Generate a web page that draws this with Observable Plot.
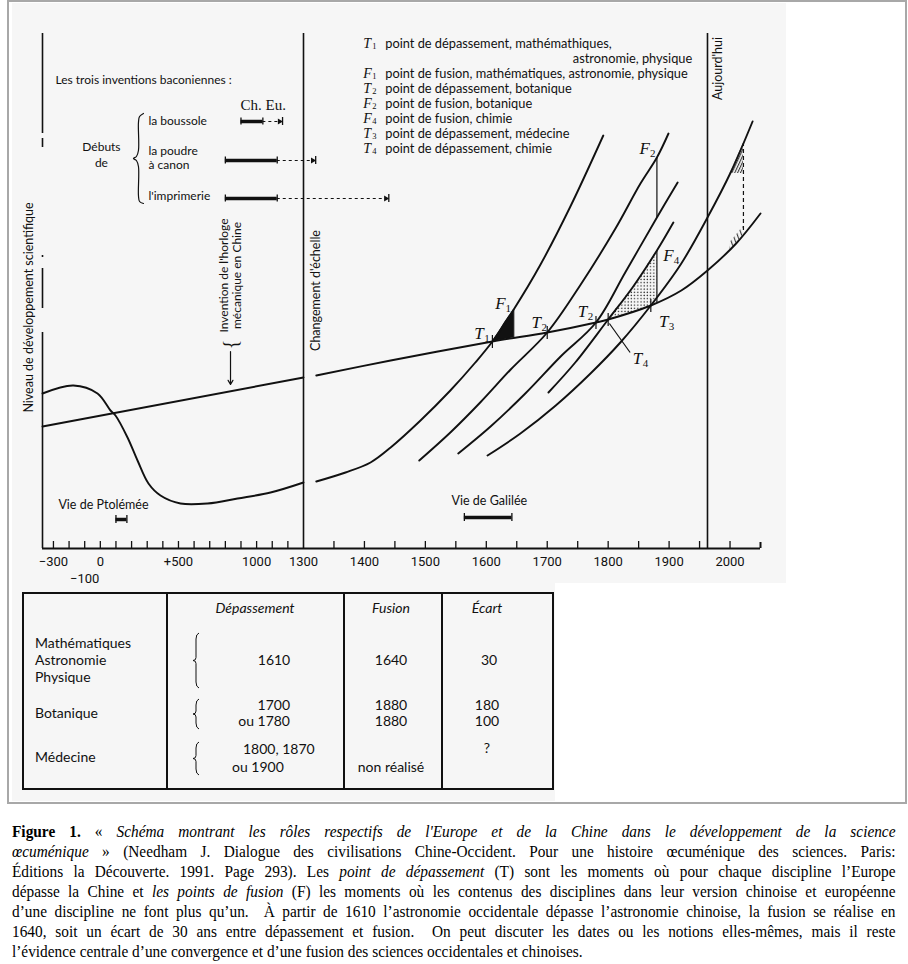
<!DOCTYPE html>
<html><head><meta charset="utf-8">
<script src="https://cdn.jsdelivr.net/npm/d3@7"></script>
<script src="https://cdn.jsdelivr.net/npm/@observablehq/plot@0.6"></script>
<style>
body{margin:0;background:#fff;width:908px;height:964px;position:relative;overflow:hidden;font-family:Lato,sans-serif;color:#111}
#frame{position:absolute;left:7px;top:0;width:900px;height:804px;border:2px solid #a8a8a8;box-sizing:border-box}
#chartbg{position:absolute;left:12px;top:3px;width:774px;height:580px;background:#f6f6f6}
#tablebg{position:absolute;left:12px;top:583px;width:543px;height:218px;background:#f6f6f6}
#chart{position:absolute;left:0;top:0}
#table{position:absolute;left:22px;top:592px;width:532px;height:198px;border:2px solid #111;box-sizing:border-box}
.vl{position:absolute;top:592px;width:1.6px;height:198px;background:#111}
.tt{position:absolute;font-size:14px;white-space:nowrap;line-height:16px}
#caption{position:absolute;left:12px;top:822px;width:950px;transform:scaleX(0.93);transform-origin:0 0;font-family:"Liberation Serif",serif;font-size:16.5px;color:#000}
.cl{height:20px;line-height:20px;text-align:justify;text-align-last:justify}
.cl.last{text-align-last:left}
</style></head>
<body>
<div id="frame"></div>
<div id="chartbg"></div>
<div id="tablebg"></div>
<div id="chart"></div>
<div id="table"></div>
<div class="vl" style="left:166px"></div>
<div class="vl" style="left:343px"></div>
<div class="vl" style="left:441px"></div>
<div id="tabletext"></div>
<svg id="braces" width="908" height="964" style="position:absolute;left:0;top:0;pointer-events:none"></svg>
<div id="caption">
<div class="cl"><b>Figure 1.</b> « <i>Schéma montrant les rôles respectifs de l'Europe et de la Chine dans le développement de la science</i></div>
<div class="cl"><i>œcuménique</i> » (Needham J. Dialogue des civilisations Chine-Occident. Pour une histoire œcuménique des sciences. Paris:</div>
<div class="cl">Éditions la Découverte. 1991. Page 293). Les <i>point de dépassement</i> (T) sont les moments où pour chaque discipline l’Europe</div>
<div class="cl">dépasse la Chine et <i>les points de fusion</i> (F) les moments où les contenus des disciplines dans leur version chinoise et européenne</div>
<div class="cl">d’une discipline ne font plus qu’un.&nbsp; À partir de 1610 l’astronomie occidentale dépasse l’astronomie chinoise, la fusion se réalise en</div>
<div class="cl">1640, soit un écart de 30 ans entre dépassement et fusion.&nbsp; On peut discuter les dates ou les notions elles-mêmes, mais il reste</div>
<div class="cl last">l’évidence centrale d’une convergence et d’une fusion des sciences occidentales et chinoises.</div>
</div>
<script>
// ---------- data: [year, level of scientific development] ----------
const chinaLeft  = [[-370,122],[1300,171]];
const chinaRight = [[1321,173],[1443,188],[1610,207],[1700,216],[1780,226],[1800,229],[1870,243],[1920,258],[1963,278],[2010,305],[2050,335]];
const europeLeft = [[-370,155],[-172,163],[-18,155],[65,138],[97,133],[174,111],[238,88],[308,65],[385,53],[513,45],[686,45],[878,50],[1089,56],[1300,66]];
const europeMath   = [[1321,67],[1369,76],[1410,86],[1443,101],[1492,128],[1541,158],[1582,186],[1610,207],[1645,239],[1689,284],[1738,342],[1792,413]];
const europeBot1   = [[1490,88],[1541,116],[1590,146],[1640,179],[1700,216],[1755,264],[1812,320],[1853,365],[1880,391],[1899,415]];
const europeBot2   = [[1554,95],[1607,122],[1664,155],[1722,192],[1780,226],[1828,276],[1880,331],[1914,366]];
const europeChem   = [[1702,156],[1746,186],[1800,229],[1840,261],[1880,298],[1907,326]];
const europeMed    = [[1602,93],[1656,115],[1714,143],[1771,175],[1820,206],[1870,243],[1919,284],[1963,331],[2001,376],[2037,427]];

const fusion1Fill = [{x:1610,lo:207,hi:207},{x:1620,lo:208,hi:216},{x:1630,lo:209,hi:226},{x:1645,lo:210.5,hi:239}];
const fusion4Fill = [{x:1800,lo:229,hi:229},{x:1820,lo:233,hi:245},{x:1840,lo:236,hi:261},{x:1860,lo:240,hi:279},{x:1880,lo:246,hi:298}];
const futureTop   = [{x:2000,lo:375,hi:375},{x:2011,lo:375,hi:390},{x:2022,lo:375,hi:405}];
const futureLow   = [{x:2000,lo:299,hi:306},{x:2011,lo:306,hi:314},{x:2022,lo:314,hi:322}];
const fusionLinks = [{x:1880,y1:331,y2:391},{x:1880,y1:246,y2:298}];
const futureLink  = [{x:2022,y1:318,y2:405}];

const tPoints = [{year:1610,level:207},{year:1700,level:216},{year:1780,level:226},{year:1800,level:229},{year:1870,level:243}];
const pointLabels = [
  {s:"F",n:"1",x:1623,y:245},{s:"T",n:"1",x:1588,y:215},{s:"T",n:"2",x:1682,y:226},
  {s:"T",n:"2",x:1758,y:237},{s:"T",n:"3",x:1891,y:227},{s:"T",n:"4",x:1848,y:190},
  {s:"F",n:"4",x:1899,y:293},{s:"F",n:"2",x:1860,y:400}
];
const t4Leader = [{x1:1802,y1:225,x2:1836,y2:196}];

const legendItems = [
  {s:"T",n:"1",text:"point de dépassement, mathémathiques,",level:505},
  {s:"F",n:"1",text:"point de fusion, mathématiques, astronomie, physique",level:475},
  {s:"T",n:"2",text:"point de dépassement, botanique",level:460},
  {s:"F",n:"2",text:"point de fusion, botanique",level:445},
  {s:"F",n:"4",text:"point de fusion, chimie",level:430},
  {s:"T",n:"3",text:"point de dépassement, médecine",level:415},
  {s:"T",n:"4",text:"point de dépassement, chimie",level:400}
];
const legendCont = [{text:"astronomie, physique",x:1938,level:490}];

// Bacon's three inventions: Chinese period (bar) and European appearance (dashed end)
const inventions = [
  {chinaStart:900,chinaEnd:1040,europe:1166,level:427},
  {chinaStart:800,chinaEnd:1132,europe:1320,level:388},
  {chinaStart:800,chinaEnd:1132,europe:1440,level:350}
];
const inventionLabels = [
  {t:"la boussole",x:308,y:427},{t:"la poudre",x:308,y:397},{t:"à canon",x:308,y:383},{t:"l'imprimerie",x:308,y:352}
];
const lifeSpans = [{name:"Vie de Ptolémée",start:100,end:170,level:29,lx:20,ly:44},{name:"Vie de Galilée",start:1564,end:1642,level:31,lx:1605,ly:48}];

const braceDebuts = [[276,435],[251,432],[244,426],[244,398],[231,392],[212,390],[231,388],[244,382],[244,353],[251,347],[276,345]];
const leftAxisSegments = [[415,515],[401,410],[291,293],[240,280],[0,216]];

const ticksLeft = d3.range(-300,1300,100);
const ticksRight = d3.range(1350,2001,50);
const tickLabels = [{v:-300,t:"−300"},{v:0,t:"0"},{v:500,t:"+500"},{v:1000,t:"1000"},{v:1300,t:"1300"},{v:1400,t:"1400"},{v:1500,t:"1500"},{v:1600,t:"1600"},{v:1700,t:"1700"},{v:1800,t:"1800"},{v:1900,t:"1900"},{v:2000,t:"2000"}];
const tickLabels2 = [{v:-100,t:"−100"}];
const scaleBreak = 1300, today = 1963;

// ---------- chart ----------
const X = d => d[0], Y = d => d[1];
const INK = "#111";
const serif = "Liberation Serif";
const curveOpts = {x:X, y:Y, curve:"catmull-rom", stroke:INK, strokeWidth:1.9};

const chart = Plot.plot({
  width: 908, height: 590,
  style: {background:"transparent", fontFamily:"Lato", color:INK, overflow:"visible"},
  x: {type:"linear", domain:[-370,1300,2050], range:[42,303,760], axis:null},
  y: {type:"linear", domain:[0,515], range:[548,33], axis:null},
  marks: [
    // frame lines
    Plot.ruleX(leftAxisSegments, {x:() => -370, y1:d=>d[0], y2:d=>d[1], stroke:INK, strokeWidth:1.6}),
    Plot.ruleX([scaleBreak, today], {y1:0, y2:515, stroke:INK, strokeWidth:1.6}),
    Plot.ruleY([0], {x1:-370, x2:2050, stroke:INK, strokeWidth:2}),
    Plot.ruleX([2050], {y1:0, y2:6, stroke:INK, strokeWidth:2}),
    Plot.ruleX(ticksLeft.concat(ticksRight), {y1:0, y2:7, stroke:INK, strokeWidth:1.3}),
    Plot.text(tickLabels, {x:"v", y:()=>0, text:"t", dy:13, fontSize:13, fontFamily:"Roboto", fill:INK}),
    Plot.text(tickLabels2, {x:"v", y:()=>0, text:"t", dy:30, fontSize:13, fontFamily:"Roboto", fill:INK}),

    // fills
    Plot.areaY(fusion1Fill, {x:"x", y1:"lo", y2:"hi", fill:INK}),
    Plot.ruleX([1645], {y1:210.5, y2:239, stroke:INK, strokeWidth:1.2}),
    Plot.areaY(fusion4Fill, {x:"x", y1:"lo", y2:"hi", fill:"url(#dots)", curve:"catmull-rom"}),
    Plot.areaY(futureTop, {x:"x", y1:"lo", y2:"hi", fill:"url(#hatch)"}),
    Plot.areaY(futureLow, {x:"x", y1:"lo", y2:"hi", fill:"url(#hatch2)"}),
    Plot.ruleX(fusionLinks, {x:"x", y1:"y1", y2:"y2", stroke:INK, strokeWidth:1.2}),
    Plot.ruleX(futureLink, {x:"x", y1:"y1", y2:"y2", stroke:INK, strokeWidth:1.2, strokeDasharray:"4,3"}),

    // curves
    Plot.line(chinaLeft, {...curveOpts, curve:"linear"}),
    Plot.line(chinaRight, curveOpts),
    Plot.line(europeLeft, curveOpts),
    Plot.line(europeMath, curveOpts),
    Plot.line(europeBot1, curveOpts),
    Plot.line(europeBot2, curveOpts),
    Plot.line(europeChem, curveOpts),
    Plot.line(europeMed, curveOpts),

    // T ticks & labels
    Plot.ruleX(tPoints, {x:"year", y1:d=>d.level-7, y2:d=>d.level+6, stroke:INK, strokeWidth:1.2}),
    Plot.link(t4Leader, {x1:"x1", y1:"y1", x2:"x2", y2:"y2", stroke:INK, strokeWidth:1.2}),
    Plot.text(pointLabels, {x:"x", y:"y", text:"s", fontFamily:serif, fontStyle:"italic", fontSize:17, fill:INK}),
    Plot.text(pointLabels, {x:"x", y:"y", text:"n", dx:8, dy:5, fontFamily:serif, fontSize:11, fill:INK}),

    // legend
    Plot.text(legendItems, {x:()=>1398, y:"level", text:"s", textAnchor:"start", fontFamily:serif, fontStyle:"italic", fontSize:14, fill:INK}),
    Plot.text(legendItems, {x:()=>1398, y:"level", text:"n", textAnchor:"start", dx:9, dy:2.5, fontFamily:serif, fontSize:8.5, fill:INK}),
    Plot.text(legendItems, {x:()=>1398, y:"level", text:"text", textAnchor:"start", dx:22, fontSize:12.8, fill:INK}),
    Plot.text(legendCont, {x:"x", y:"level", text:"text", textAnchor:"end", fontSize:12.8, fill:INK}),

    // Baconian inventions
    Plot.text([{t:"Les trois inventions baconiennes :"}], {x:()=>-287, y:()=>468, text:"t", textAnchor:"start", fontSize:12, fill:INK}),
    Plot.text([{t:"Ch. Eu."}], {x:()=>897, y:()=>443, text:"t", textAnchor:"start", fontSize:15, fontFamily:serif, fill:INK}),
    Plot.text([{t:"Débuts"},{t:"de"}], {x:()=>7, y:(d,i)=>401-i*16, text:"t", fontSize:12, fill:INK}),
    Plot.text(inventionLabels, {x:"x", y:"y", text:"t", textAnchor:"start", fontSize:12, fill:INK}),
    Plot.line(braceDebuts, {x:X, y:Y, curve:"catmull-rom", stroke:INK, strokeWidth:1.2}),
    Plot.ruleY(inventions, {x1:"chinaStart", x2:"chinaEnd", y:"level", stroke:INK, strokeWidth:3.5}),
    Plot.ruleX(inventions, {x:"chinaStart", y1:d=>d.level-3.5, y2:d=>d.level+3.5, stroke:INK, strokeWidth:1.3}),
    Plot.ruleX(inventions, {x:"chinaEnd", y1:d=>d.level-3.5, y2:d=>d.level+3.5, stroke:INK, strokeWidth:1.3}),
    Plot.ruleY(inventions, {x1:"chinaEnd", x2:"europe", y:"level", stroke:INK, strokeWidth:1.2, strokeDasharray:"3,3"}),
    Plot.ruleX(inventions, {x:"europe", y1:d=>d.level-4, y2:d=>d.level+4, stroke:INK, strokeWidth:1.3}),
    Plot.dot(inventions, {x:"europe", y:"level", symbol:"triangle", rotate:90, r:2.2, dx:-3, fill:INK, stroke:null}),

    // life spans
    Plot.ruleY(lifeSpans, {x1:"start", x2:"end", y:"level", stroke:INK, strokeWidth:3.5}),
    Plot.ruleX(lifeSpans, {x:"start", y1:d=>d.level-4, y2:d=>d.level+4, stroke:INK, strokeWidth:1.3}),
    Plot.ruleX(lifeSpans, {x:"end", y1:d=>d.level-4, y2:d=>d.level+4, stroke:INK, strokeWidth:1.3}),
    Plot.text(lifeSpans, {x:"lx", y:"ly", text:"name", fontSize:12.5, fill:INK}),

    // rotated labels
    Plot.text([{t:"Niveau de développement scientifique"}], {x:()=>-370, y:()=>241, dx:-14, text:"t", rotate:-90, fontSize:12.5, fill:INK}),
    Plot.text([{t:"Invention de l'horloge\nmécanique en Chine"}], {x:()=>833, y:()=>273, text:"t", rotate:-90, fontSize:12, lineHeight:1.08, fill:INK}),
    Plot.text([{t:"{"}], {x:()=>833, y:()=>204, text:"t", rotate:-90, fontSize:20, fontFamily:serif, fill:INK}),
    Plot.arrow([{x:833, y1:197, y2:164}], {x1:"x", x2:"x", y1:"y1", y2:"y2", stroke:INK, strokeWidth:1.2, headLength:6}),
    Plot.text([{t:"Changement d'échelle"}], {x:()=>1321, y:()=>258, text:"t", rotate:-90, fontSize:12.5, fill:INK}),
    Plot.text([{t:"Aujourd'hui"}], {x:()=>1981, y:()=>480, text:"t", rotate:-90, fontSize:12.5, fill:INK})
  ]
});
document.getElementById("chart").appendChild(chart);

// fill patterns
const defs = d3.select(chart).insert("defs", ":first-child");
const dots = defs.append("pattern").attr("id","dots").attr("patternUnits","userSpaceOnUse").attr("width",3.2).attr("height",3.2);
dots.append("circle").attr("cx",1).attr("cy",1).attr("r",0.7).attr("fill",INK);
const hatch = defs.append("pattern").attr("id","hatch").attr("patternUnits","userSpaceOnUse").attr("width",2.6).attr("height",6).attr("patternTransform","rotate(25)");
hatch.append("line").attr("x1",0.6).attr("y1",0).attr("x2",0.6).attr("y2",6).attr("stroke",INK).attr("stroke-width",0.9);
const hatch2 = defs.append("pattern").attr("id","hatch2").attr("patternUnits","userSpaceOnUse").attr("width",4).attr("height",8).attr("patternTransform","rotate(-20)");
hatch2.append("line").attr("x1",0.6).attr("y1",0).attr("x2",0.6).attr("y2",8).attr("stroke",INK).attr("stroke-width",0.9);

// ---------- table ----------
const tableHeader = [["Dépassement",255],["Fusion",391],["Écart",487]];
const tableCells = [
  ["Mathématiques",35,643,"start"],["Astronomie",35,660,"start"],["Physique",35,677,"start"],
  ["1610",274,660,"middle"],["1640",391,660,"middle"],["30",489,660,"middle"],
  ["Botanique",35,713,"start"],["1700",290,705,"end"],["ou 1780",290,721,"end"],
  ["1880",391,705,"middle"],["1880",391,721,"middle"],["180",487,705,"middle"],["100",487,721,"middle"],
  ["Médecine",35,757,"start"],["1800, 1870",243,749,"start"],["ou 1900",232,767,"start"],
  ["non réalisé",391,767,"middle"],["?",487,748,"middle"]
];
const tt = document.getElementById("tabletext");
function place(text, x, y, anchor, italic){
  const d = document.createElement("div");
  d.className = "tt"; d.textContent = text;
  const tx = anchor==="start" ? "0" : anchor==="end" ? "-100%" : "-50%";
  d.style.left = x+"px"; d.style.top = y+"px";
  d.style.transform = `translate(${tx},-50%)`;
  if (italic) d.style.fontStyle = "italic";
  tt.appendChild(d);
}
tableHeader.forEach(([t,x]) => place(t, x, 608, "middle", true));
tableCells.forEach(([t,x,y,a]) => place(t, x, y, a, false));
const braceRows = [[633,688],[699,729],[742,775]];
const bsvg = d3.select("#braces");
braceRows.forEach(([y1,y2]) => {
  const x = 196, m = (y1+y2)/2;
  bsvg.append("path").attr("fill","none").attr("stroke",INK).attr("stroke-width",1)
    .attr("d",`M${x+3},${y1} Q${x},${y1+1} ${x},${y1+6} L${x},${m-3} Q${x},${m} ${x-3},${m} Q${x},${m} ${x},${m+3} L${x},${y2-6} Q${x},${y2-1} ${x+3},${y2}`);
});
</script>
</body></html>
